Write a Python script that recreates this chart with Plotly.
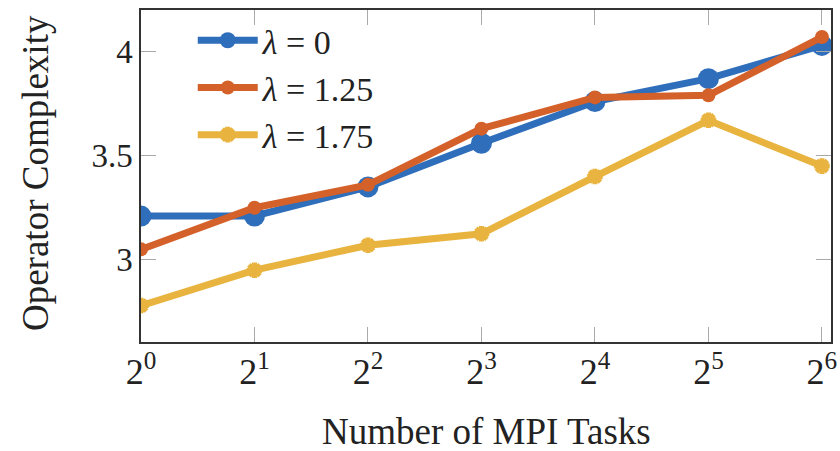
import plotly.graph_objects as go

# Data
exponents = [0, 1, 2, 3, 4, 5, 6]
tick_labels = ["2<sup>%d</sup>" % e for e in exponents]
series_names = ["<i>λ</i> = 0", "<i>λ</i> = 1.25", "<i>λ</i> = 1.75"]
lam_0 = [3.21, 3.21, 3.35, 3.56, 3.76, 3.87, 4.03]
lam_125 = [3.05, 3.25, 3.36, 3.63, 3.78, 3.79, 4.07]
lam_175 = [2.78, 2.95, 3.07, 3.125, 3.40, 3.67, 3.45]

colors = ["#2F6EBA", "#D4602A", "#E8B43F"]
FONT = "Liberation Serif"

fig = go.Figure()
fig.add_trace(go.Scatter(x=exponents, y=lam_0, name=series_names[0], mode="lines+markers",
                         line=dict(color=colors[0], width=7),
                         marker=dict(symbol="circle", size=21, color=colors[0])))
fig.add_trace(go.Scatter(x=exponents, y=lam_125, name=series_names[1], mode="lines+markers",
                         line=dict(color=colors[1], width=7),
                         marker=dict(symbol="circle", size=14, color=colors[1])))
fig.add_trace(go.Scatter(x=exponents, y=lam_175, name=series_names[2], mode="lines+markers",
                         line=dict(color=colors[2], width=7),
                         marker=dict(symbol="asterisk-open", size=13,
                                     line=dict(color=colors[2], width=5))))

fig.update_layout(
    template="none",
    width=840, height=451,
    margin=dict(l=141, r=9, t=10, b=109),
    paper_bgcolor="white", plot_bgcolor="white",
    font=dict(family=FONT, size=34, color="#222"),
    showlegend=True,
    legend=dict(x=0.075, y=0.995, xanchor="left", yanchor="top",
                bgcolor="rgba(0,0,0,0)", font=dict(family=FONT, size=34, color="#222"),
                itemwidth=60, tracegroupgap=0),
    xaxis=dict(range=[0, 6.08], tickvals=exponents, ticktext=tick_labels,
               showgrid=False, zeroline=False, showline=True, linecolor="#333",
               linewidth=1.5, mirror="ticks", ticks="inside", ticklen=15,
               tickcolor="#aaa", tickwidth=1, ticklabelstandoff=-3,
               tickfont=dict(family=FONT, size=36, color="#222")),
    yaxis=dict(range=[2.605, 4.2], tickvals=[3, 3.5, 4], ticktext=["3", "3.5", "4"],
               showgrid=False, zeroline=False, showline=True, linecolor="#333",
               linewidth=1.5, mirror="ticks", ticks="inside", ticklen=15,
               tickcolor="#aaa", tickwidth=1,
               tickfont=dict(family=FONT, size=33, color="#222")),
    annotations=[
        dict(text="Number of MPI Tasks", xref="paper", yref="paper", x=0.501, y=-0.271,
             xanchor="center", yanchor="middle", showarrow=False,
             font=dict(family=FONT, size=37, color="#222")),
        dict(text="Operator Complexity", xref="paper", yref="paper", x=-0.1536, y=0.509,
             xanchor="center", yanchor="middle", textangle=-90, showarrow=False,
             font=dict(family=FONT, size=37, color="#222")),
    ],
)

fig.write_html("out.html")
